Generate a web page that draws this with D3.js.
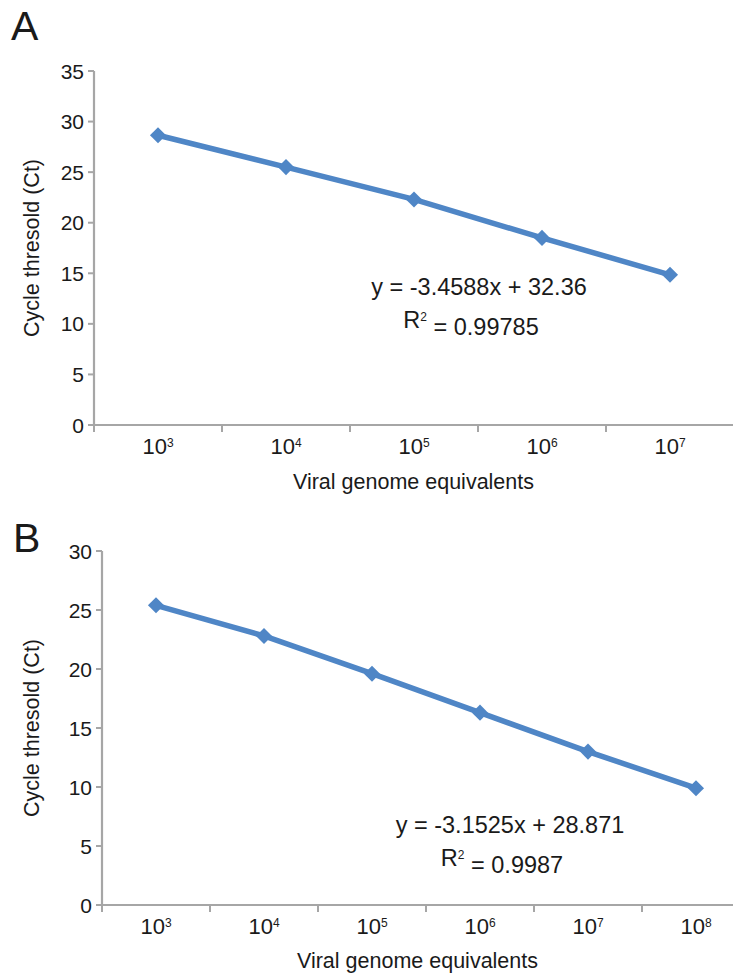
<!DOCTYPE html>
<html>
<head>
<meta charset="utf-8">
<script src="https://cdn.jsdelivr.net/npm/d3@7"></script>
<style>
  body { margin: 0; background: #fff; }
  text { font-family: "Liberation Sans", Arial, sans-serif; fill: #1a1a1a; }
</style>
</head>
<body>
<svg id="chart"></svg>
<script>
// Standard curves, two panels
const width = 733;
const height = 980;

// Panel A data
const expA = [3, 4, 5, 6, 7];
const ctA = [28.65, 25.5, 22.3, 18.5, 14.85];
const yTicksA = [0, 5, 10, 15, 20, 25, 30, 35];
const eqA = ["y = -3.4588x + 32.36", "0.99785"];

// Panel B data
const expB = [3, 4, 5, 6, 7, 8];
const ctB = [25.4, 22.8, 19.6, 16.3, 13.0, 9.9];
const yTicksB = [0, 5, 10, 15, 20, 25, 30];
const eqB = ["y = -3.1525x + 28.871", "0.9987"];

const svg = d3.select("#chart")
    .attr("width", width)
    .attr("height", height);

const axisColor = "#a6a6a6";
const lineColor = "#4f86c6";

function drawPanel(cfg) {
    const g = svg.append("g");

    const x = d3.scaleBand()
        .domain(cfg.exps)
        .range([cfg.left, cfg.right]);
    const y = d3.scaleLinear()
        .domain([0, cfg.yMax])
        .range([cfg.bottom, cfg.top]);

    // panel letter
    g.append("text")
        .attr("x", cfg.letterX)
        .attr("y", cfg.letterY)
        .style("font-size", "41px")
        .text(cfg.letter);

    // y axis line + ticks
    g.append("line")
        .attr("x1", cfg.left).attr("x2", cfg.left)
        .attr("y1", y(cfg.yMax)).attr("y2", cfg.bottom)
        .attr("stroke", axisColor).attr("stroke-width", 2.2);
    g.selectAll(".ytick")
        .data(cfg.yTicks)
        .enter().append("line")
        .attr("x1", cfg.left - 6).attr("x2", cfg.left)
        .attr("y1", d => y(d)).attr("y2", d => y(d))
        .attr("stroke", axisColor).attr("stroke-width", 2);
    g.selectAll(".ylab")
        .data(cfg.yTicks)
        .enter().append("text")
        .attr("x", cfg.left - 10)
        .attr("y", d => y(d))
        .attr("dy", "0.36em")
        .attr("text-anchor", "end")
        .style("font-size", "21px")
        .text(d => d);

    // x axis line + ticks at category edges
    g.append("line")
        .attr("x1", cfg.left).attr("x2", cfg.right)
        .attr("y1", cfg.bottom).attr("y2", cfg.bottom)
        .attr("stroke", axisColor).attr("stroke-width", 2.2);
    g.selectAll(".xtick")
        .data(cfg.exps)
        .enter().append("line")
        .attr("x1", d => x(d)).attr("x2", d => x(d))
        .attr("y1", cfg.bottom).attr("y2", cfg.bottom + 7)
        .attr("stroke", axisColor).attr("stroke-width", 2);

    const xl = g.selectAll(".xlab")
        .data(cfg.exps)
        .enter().append("text")
        .attr("x", d => x(d) + x.bandwidth() / 2)
        .attr("y", cfg.bottom + 29)
        .attr("text-anchor", "middle")
        .style("font-size", "22px");
    xl.append("tspan").text("10");
    xl.append("tspan")
        .attr("dy", "-0.55em")
        .style("font-size", "12px")
        .text(d => d);

    // axis titles
    g.append("text")
        .attr("x", (cfg.left + Math.min(cfg.right, width)) / 2)
        .attr("y", cfg.xTitleY)
        .attr("text-anchor", "middle")
        .style("font-size", "21.5px")
        .text("Viral genome equivalents");
    g.append("text")
        .attr("transform", `translate(${cfg.yTitleX},${(cfg.top + cfg.bottom) / 2}) rotate(-90)`)
        .attr("text-anchor", "middle")
        .style("font-size", "21.5px")
        .text("Cycle thresold (Ct)");

    // series line
    const pts = cfg.exps.map((e, i) => [x(e) + x.bandwidth() / 2, y(cfg.values[i])]);
    g.append("path")
        .attr("d", d3.line()(pts))
        .attr("fill", "none")
        .attr("stroke", lineColor)
        .attr("stroke-width", 5.5);
    g.selectAll(".marker")
        .data(pts)
        .enter().append("path")
        .attr("d", d3.symbol().type(d3.symbolDiamond2).size(165))
        .attr("transform", d => `translate(${d[0]},${d[1]})`)
        .attr("fill", lineColor);

    // trendline equation
    g.append("text")
        .attr("x", cfg.eqX)
        .attr("y", cfg.eqY)
        .attr("text-anchor", "middle")
        .style("font-size", "23.5px")
        .text(cfg.eq[0]);
    const r2 = g.append("text")
        .attr("x", cfg.eqX - 8)
        .attr("y", cfg.eqY + 33)
        .attr("text-anchor", "middle")
        .style("font-size", "23.5px");
    r2.append("tspan").text("R");
    r2.append("tspan").attr("dy", "-0.6em").style("font-size", "12px").text("2");
    r2.append("tspan").attr("dy", "0.6em").text(" = " + cfg.eq[1]);
}

drawPanel({
    letter: "A", letterX: 11, letterY: 40,
    exps: expA, values: ctA, yTicks: yTicksA, yMax: 35, eq: eqA,
    left: 94, right: 734, top: 71, bottom: 425,
    xTitleY: 489, yTitleX: 39,
    eqX: 479, eqY: 295
});

drawPanel({
    letter: "B", letterX: 13, letterY: 552,
    exps: expB, values: ctB, yTicks: yTicksB, yMax: 30, eq: eqB,
    left: 102, right: 750, top: 551, bottom: 905,
    xTitleY: 968, yTitleX: 39,
    eqX: 510, eqY: 833
});
</script>
</body>
</html>
